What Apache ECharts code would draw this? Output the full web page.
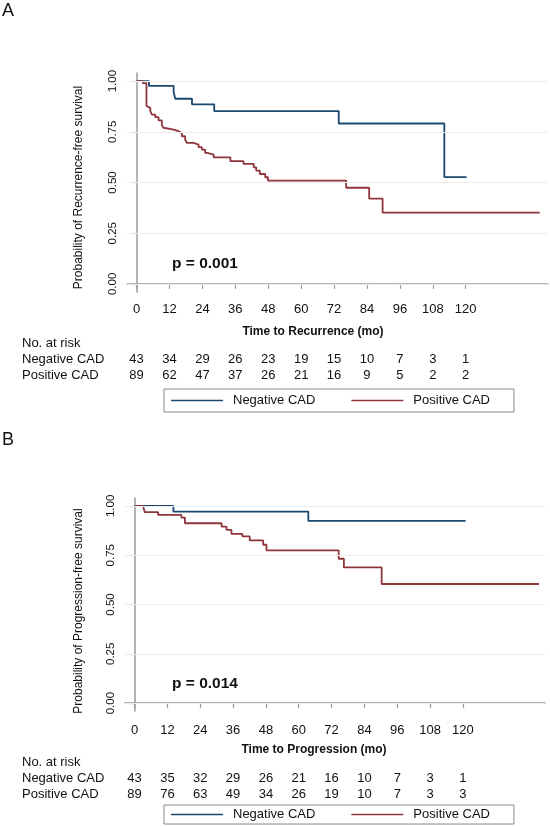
<!DOCTYPE html>
<html>
<head>
<meta charset="utf-8">
<script src="https://cdn.jsdelivr.net/npm/echarts@6/dist/echarts.min.js"></script>
<style>
html,body{margin:0;padding:0;background:#fff;}
#chart{width:550px;height:826px;}
</style>
</head>
<body>
<div id="chart"></div>
<script>
// ---------- data ----------
const xTicks = [0, 12, 24, 36, 48, 60, 72, 84, 96, 108, 120];
const yTicks = [0, 0.25, 0.5, 0.75, 1];
const seriesNames = ['Negative CAD', 'Positive CAD'];

// Panel A: recurrence-free survival (time, survival)
const negRecTime = [0, 4.5, 13.5, 14.1, 20.2, 28.3, 73.7, 112.2, 120.3];
const negRecSurv = [1, 0.977, 0.946, 0.913, 0.885, 0.852, 0.791, 0.527, 0.527];
const posRecTime = [0, 2.3, 3.6, 3.8, 5.0, 5.6, 6.8, 8.0, 9.2, 9.8, 10.4, 13.5, 15.3, 16.5, 17.7, 18.3, 20.8, 22.6, 23.8, 25.0, 25.8, 28.1, 34.2, 39.0, 42.7, 43.6, 44.9, 46.9, 47.9, 76.4, 84.8, 89.7, 147];
const posRecSurv = [1, 0.99, 0.877, 0.868, 0.852, 0.835, 0.822, 0.806, 0.783, 0.770, 0.761, 0.753, 0.745, 0.728, 0.712, 0.695, 0.687, 0.674, 0.662, 0.646, 0.638, 0.624, 0.605, 0.592, 0.575, 0.559, 0.542, 0.526, 0.509, 0.474, 0.42, 0.351, 0.351];

// Panel B: progression-free survival
const negProgTime = [0, 14.2, 63.5, 121];
const negProgSurv = [1, 0.971, 0.924, 0.924];
const posProgTime = [0, 3.1, 3.7, 8.6, 17.1, 18.4, 31.8, 33.6, 35.4, 39.4, 42.1, 47.0, 48.2, 74.6, 76.5, 90.3, 147.8];
const posProgSurv = [1, 0.991, 0.968, 0.954, 0.941, 0.912, 0.895, 0.878, 0.858, 0.845, 0.825, 0.803, 0.774, 0.732, 0.688, 0.604, 0.604];

// Numbers at risk
const riskNegA = [43, 34, 29, 26, 23, 19, 15, 10, 7, 3, 1];
const riskPosA = [89, 62, 47, 37, 26, 21, 16, 9, 5, 2, 2];
const riskNegB = [43, 35, 32, 29, 26, 21, 16, 10, 7, 3, 1];
const riskPosB = [89, 76, 63, 49, 34, 26, 19, 10, 7, 3, 3];

const pValueA = 'p = 0.001';
const pValueB = 'p = 0.014';

// ---------- styling ----------
const FONT = '"Liberation Sans", Arial, sans-serif';
const NAVY = '#1a476f';
const MAROON = '#90353b';
const AXIS = '#9a9a9a';
const XMIN = -3.5, XMAX = 150, YMIN = -0.04, YMAX = 1.04;

function zip(a, b) { return a.map((v, i) => [v, b[i]]); }

function mainX(grid) {
  return {
    type: 'value', gridIndex: grid, min: XMIN, max: XMAX,
    axisLine: { show: true, lineStyle: { color: AXIS, width: 1.5 } },
    axisTick: { show: true, length: 5, customValues: xTicks, lineStyle: { color: AXIS, width: 1.2 } },
    axisLabel: { customValues: xTicks, margin: grid === 0 ? 17 : 19, verticalAlign: 'middle',
      fontFamily: FONT, fontSize: 13, color: '#111' },
    splitLine: { show: false }
  };
}
function riskX(grid, arr, off) {
  return {
    type: 'value', gridIndex: grid, min: XMIN, max: XMAX, position: 'bottom', offset: off,
    axisLine: { show: false }, axisTick: { show: false }, splitLine: { show: false },
    axisLabel: { customValues: xTicks, margin: 0, verticalAlign: 'middle',
      fontFamily: FONT, fontSize: 13, color: '#111',
      formatter: (v) => { const i = xTicks.indexOf(Math.round(v)); return i >= 0 ? String(arr[i]) : ''; } }
  };
}
function yAx(grid) {
  return {
    type: 'value', gridIndex: grid, min: YMIN, max: YMAX,
    axisLine: { show: true, lineStyle: { color: AXIS, width: 1.5 } },
    axisTick: { show: true, length: 5, customValues: yTicks, lineStyle: { color: AXIS, width: 1.2 } },
    axisLabel: { customValues: yTicks, rotate: 90, margin: 8, fontFamily: FONT, fontSize: 11.5, color: '#111',
      formatter: (v) => v.toFixed(2) },
    splitLine: { show: false }
  };
}
function gridLines() {
  return {
    silent: true, symbol: 'none', label: { show: false },
    lineStyle: { color: '#ececec', width: 1, type: 'solid' },
    data: yTicks.map(v => ({ yAxis: v }))
  };
}
function km(name, grid, xIdx, t, s, color, withGrid) {
  const o = {
    name, type: 'line', step: 'end', xAxisIndex: xIdx, yAxisIndex: grid,
    data: zip(t, s), symbol: 'none', showSymbol: false,
    lineStyle: { color, width: 1.8 }, itemStyle: { color }, z: 3
  };
  if (withGrid) o.markLine = gridLines();
  return o;
}
function legendAt(top, pad) {
  return {
    data: seriesNames, left: 164, top, orient: 'horizontal',
    icon: 'rect', padding: pad, itemGap: 36, itemWidth: 52, itemHeight: 1.6,
    borderColor: '#8a8a8a', borderWidth: 1, backgroundColor: '#fff',
    textStyle: { fontFamily: FONT, fontSize: 13, color: '#111', padding: [0, 0, 0, 5] }
  };
}
function txt(x, y, text, opts) {
  return Object.assign({ type: 'text', x, y, style: Object.assign({ text, fontFamily: FONT, fontSize: 13, fill: '#111' }, opts || {}) });
}

const option = {
  animation: false,
  backgroundColor: '#fff',
  grid: [
    { left: 127, top: 73, width: 421, height: 219 },
    { left: 125, top: 498, width: 420, height: 213 }
  ],
  xAxis: [
    mainX(0), riskX(0, riskNegA, 67), riskX(0, riskPosA, 83),
    mainX(1), riskX(1, riskNegB, 67), riskX(1, riskPosB, 83)
  ],
  yAxis: [yAx(0), yAx(1)],
  legend: [legendAt(389, [5, 24, 5, 7]), legendAt(805, [3, 24, 3, 7])],
  series: [
    km('Negative CAD', 0, 0, negRecTime, negRecSurv, NAVY, true),
    km('Positive CAD', 0, 0, posRecTime, posRecSurv, MAROON, false),
    km('Negative CAD', 1, 3, negProgTime, negProgSurv, NAVY, true),
    km('Positive CAD', 1, 3, posProgTime, posProgSurv, MAROON, false)
  ],
  graphic: [
    txt(2, 2, 'A', { fontSize: 18 }),
    txt(2, 431, 'B', { fontSize: 18 }),
    { type: 'text', x: 79, y: 187.5, rotation: Math.PI / 2,
      style: { text: 'Probability of Recurrence-free survival', fontFamily: FONT, fontSize: 12, fill: '#111', align: 'center', verticalAlign: 'middle' } },
    { type: 'text', x: 79, y: 611, rotation: Math.PI / 2,
      style: { text: 'Probability of Progression-free survival', fontFamily: FONT, fontSize: 12, fill: '#111', align: 'center', verticalAlign: 'middle' } },
    txt(313, 332, 'Time to Recurrence (mo)', { fontSize: 12, fontWeight: 'bold', align: 'center', verticalAlign: 'middle' }),
    txt(314, 750, 'Time to Progression (mo)', { fontSize: 12, fontWeight: 'bold', align: 'center', verticalAlign: 'middle' }),
    txt(172, 264, pValueA, { fontSize: 15.5, fontWeight: 'bold', verticalAlign: 'middle' }),
    txt(172, 684, pValueB, { fontSize: 15.5, fontWeight: 'bold', verticalAlign: 'middle' }),
    txt(22, 343.5, 'No. at risk', { verticalAlign: 'middle' }),
    txt(22, 359, 'Negative CAD', { verticalAlign: 'middle' }),
    txt(22, 375, 'Positive CAD', { verticalAlign: 'middle' }),
    txt(22, 762, 'No. at risk', { verticalAlign: 'middle' }),
    txt(22, 778, 'Negative CAD', { verticalAlign: 'middle' }),
    txt(22, 794, 'Positive CAD', { verticalAlign: 'middle' })
  ]
};
const chart = echarts.init(document.getElementById('chart'), null, { renderer: 'canvas' });
chart.setOption(option);
</script>
</body>
</html>
